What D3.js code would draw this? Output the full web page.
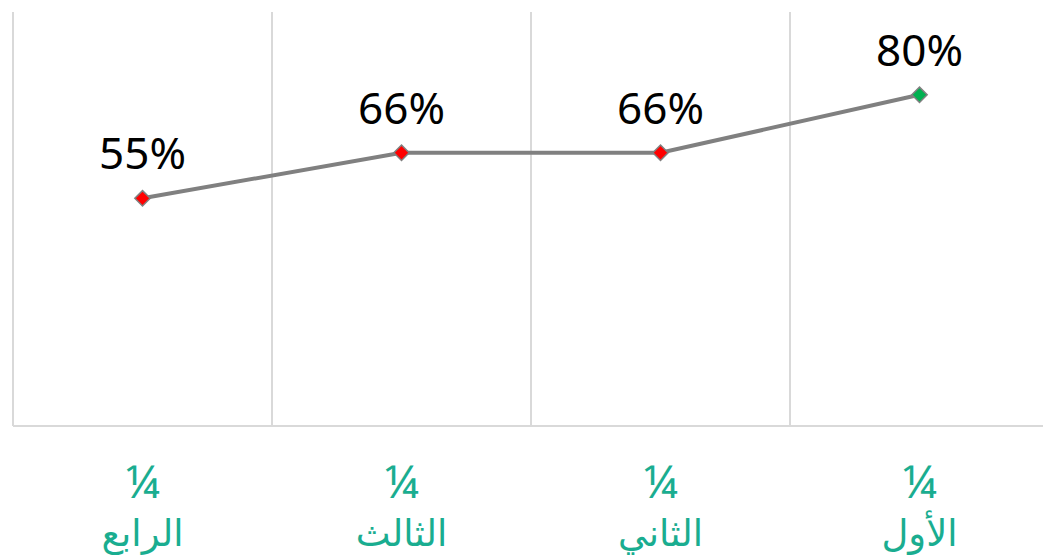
<!DOCTYPE html>
<html>
<head>
<meta charset="utf-8">
<script src="https://cdn.jsdelivr.net/npm/d3@7"></script>
<style>
  body { margin: 0; background: #fff; }
</style>
</head>
<body>
<svg id="chart"></svg>
<script>
// DATA
const quarters = ["الرابع", "الثالث", "الثاني", "الأول"];
const prefix = "¼";
const values = [0.55, 0.66, 0.66, 0.80];
const markerColors = ["#ff0000", "#ff0000", "#ff0000", "#00b050"];

const W = 1043, H = 558;
const svg = d3.select("#chart").attr("width", W).attr("height", H);

// SCALES
const x = d3.scaleBand()
  .domain(quarters)
  .range([13, 13 + 4 * 259]);

const y = d3.scaleLinear()
  .domain([0, 1])
  .range([426, 12]);

// GRIDLINES (band edges)
svg.selectAll(".grid")
  .data(quarters)
  .enter()
  .append("line")
  .attr("x1", d => x(d))
  .attr("x2", d => x(d))
  .attr("y1", y(1))
  .attr("y2", y(0))
  .attr("stroke", "#d9d9d9")
  .attr("stroke-width", 2);

// baseline
svg.append("line")
  .attr("x1", x.range()[0])
  .attr("x2", W)
  .attr("y1", y(0))
  .attr("y2", y(0))
  .attr("stroke", "#d9d9d9")
  .attr("stroke-width", 2);

const cx = d => x(d) + x.bandwidth() / 2;

// LINE
const line = d3.line()
  .x((d, i) => cx(quarters[i]))
  .y(d => y(d));

svg.append("path")
  .datum(values)
  .attr("d", line)
  .attr("fill", "none")
  .attr("stroke", "#808080")
  .attr("stroke-width", 4);

// MARKERS
svg.selectAll(".marker")
  .data(values)
  .enter()
  .append("path")
  .attr("d", d3.symbol().type(d3.symbolDiamond2).size(150))
  .attr("transform", (d, i) => `translate(${cx(quarters[i])}, ${y(d)})`)
  .attr("fill", (d, i) => markerColors[i])
  .attr("stroke", "#808080")
  .attr("stroke-width", 1.5);

// DATA LABELS
svg.selectAll(".label")
  .data(values)
  .enter()
  .append("text")
  .attr("x", (d, i) => cx(quarters[i]))
  .attr("y", d => y(d) - 29)
  .attr("text-anchor", "middle")
  .style("font-family", "'Noto Sans', 'Liberation Sans', sans-serif")
  .style("font-size", "44px")
  .style("fill", "#000")
  .text(d => Math.round(d * 100) + "%");

// CATEGORY LABELS
const cat = svg.selectAll(".cat")
  .data(quarters)
  .enter()
  .append("text")
  .attr("text-anchor", "middle")
  .style("font-family", "'Noto Sans', 'DejaVu Sans', sans-serif")
  .style("fill", "#1aad90");

cat.append("tspan")
  .attr("x", d => cx(d))
  .attr("y", 498)
  .style("font-size", "46px")
  .text(prefix);

cat.append("tspan")
  .attr("x", d => cx(d))
  .attr("y", 546)
  .style("font-size", "37px")
  .text(d => d);
</script>
</body>
</html>
